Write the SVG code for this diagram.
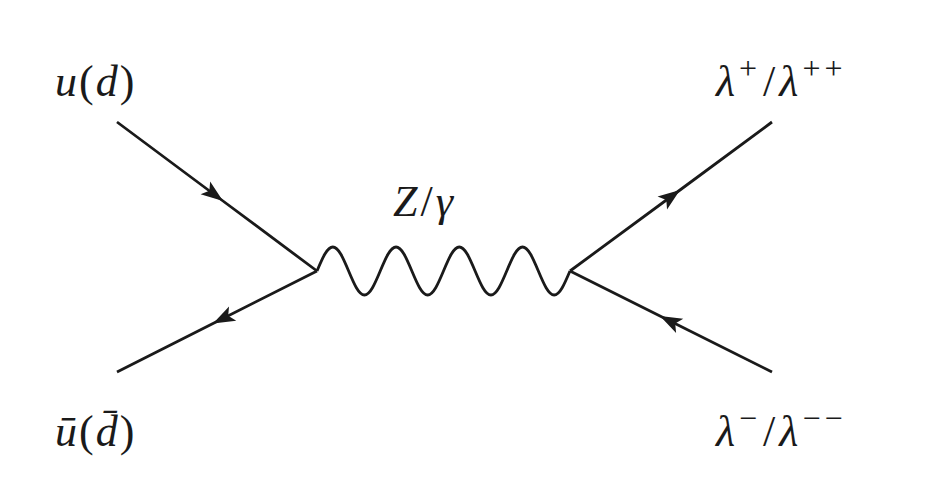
<svg xmlns="http://www.w3.org/2000/svg" width="932" height="482" viewBox="0 0 932 482">
<style>
.l{fill:none;stroke:#1a1a1a;stroke-width:2.8;marker-mid:url(#a)}
text{font-family:"Liberation Serif","DejaVu Serif",serif;font-style:italic;font-size:44px;fill:#1a1a1a}
.u{font-style:normal}
.s{font-style:normal;font-size:32px}
</style>
<defs>
<marker id="a" markerUnits="userSpaceOnUse" viewBox="-24 -9 26 18" refX="0" refY="0" markerWidth="26" markerHeight="18" orient="auto">
<path d="M0,0 L-22,-8 L-17,0 L-22,8 Z" fill="#1a1a1a"/>
</marker>
</defs>
<rect width="932" height="482" fill="#fff"/>
<g id="connectors">
<polyline id="q1" class="l" points="117,122 223,201 317,271"/>
<polyline id="q2" class="l" points="317,271 213,323.5 117,372"/>
<polyline id="l1" class="l" points="570,271 680,190 772,122"/>
<polyline id="l2" class="l" points="772,372 660,316 570,271"/>
<path id="boson" fill="none" stroke="#1a1a1a" stroke-width="2.8" d="M317,271 c5.29,-12.6 10.12,-24 15.81,-24 s10.53,11.4 15.81,24 c5.29,12.6 10.12,24 15.81,24 s10.53,-11.4 15.81,-24 c5.29,-12.6 10.12,-24 15.81,-24 s10.53,11.4 15.81,24 c5.29,12.6 10.12,24 15.81,24 s10.53,-11.4 15.81,-24 c5.29,-12.6 10.12,-24 15.81,-24 s10.53,11.4 15.81,24 c5.29,12.6 10.12,24 15.81,24 s10.53,-11.4 15.81,-24 c5.29,-12.6 10.12,-24 15.81,-24 s10.53,11.4 15.81,24 c5.29,12.6 10.12,24 15.81,24 s10.53,-11.4 15.81,-24"/>
</g>
<g id="label-ud"><text x="55" y="96" letter-spacing="2">u<tspan class="u">(</tspan>d<tspan class="u">)</tspan></text></g>
<g id="label-ubar"><text x="55" y="446" letter-spacing="2">ū<tspan class="u">(</tspan>d̄<tspan class="u">)</tspan></text></g>
<g id="label-z"><text x="393" y="216" letter-spacing="3">Z<tspan class="u">/</tspan>γ</text></g>
<g id="label-lp"><text x="716" y="96" letter-spacing="4">λ<tspan class="s" dy="-17">+</tspan><tspan class="u" dy="17" dx="2">/</tspan>λ<tspan class="s" dy="-17">++</tspan></text></g>
<g id="label-lm"><text x="716" y="446" letter-spacing="4">λ<tspan class="s" dy="-17">−</tspan><tspan class="u" dy="17" dx="2">/</tspan>λ<tspan class="s" dy="-17">−−</tspan></text></g>
</svg>
